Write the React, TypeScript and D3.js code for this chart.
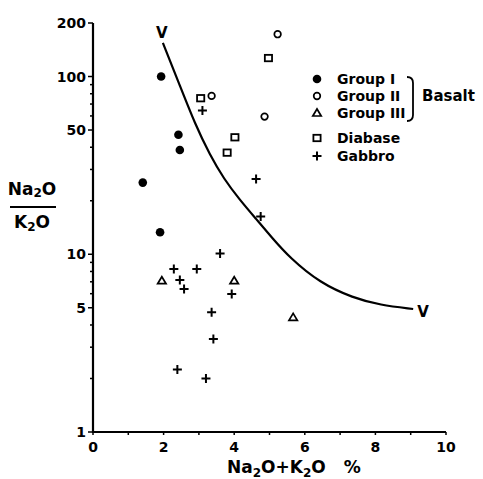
import React from "react";
import * as d3 from "d3";

// ---- data ----
const groupI: [number, number][] = [
  [1.93, 100], [2.42, 47], [2.46, 38.6], [1.41, 25.3], [1.9, 13.3],
];
const groupII: [number, number][] = [
  [5.23, 173], [3.36, 77.8], [4.86, 59.5],
];
const groupIII: [number, number][] = [
  [1.95, 7.1], [4.0, 7.1], [5.67, 4.42],
];
const diabase: [number, number][] = [
  [4.97, 127], [3.05, 75.5], [4.02, 45.5], [3.8, 37.3],
];
const gabbro: [number, number][] = [
  [3.1, 64.3], [4.62, 26.5], [4.75, 16.3], [3.6, 10.1], [2.29, 8.27], [2.94, 8.27],
  [2.46, 7.17], [2.58, 6.38], [3.93, 5.98], [3.36, 4.72], [3.41, 3.34], [2.39, 2.25], [3.2, 2.0],
];
const curveV: [number, number][] = [
  [1.98, 154.5], [2.465, 88.5], [2.89, 54.1], [3.31, 36.2], [3.71, 26.5], [4.16, 20.2],
  [4.62, 15.8], [5.07, 12.4], [5.58, 9.53], [6.43, 6.9], [7.37, 5.68], [8.13, 5.18], [9.07, 4.92],
];
const xTicksMajor = [0, 2, 4, 6, 8, 10];
const xTicksMinor = [1, 3, 5, 7, 9];
const yTickLabels = [1, 5, 10, 50, 100, 200];
const yTicksAll = [1, 2, 3, 4, 5, 6, 7, 8, 9, 10, 20, 30, 40, 50, 60, 70, 80, 90, 100, 200];
const legendItems = ["Group I", "Group II", "Group III", "Diabase", "Gabbro"];

const FONT = "'DejaVu Sans', sans-serif";

function Marker({ kind, cx, cy }: { kind: string; cx: number; cy: number }) {
  const s = "#000";
  if (kind === "Group I") return <circle cx={cx} cy={cy} r={4.3} fill={s} />;
  if (kind === "Group II") return <circle cx={cx} cy={cy} r={3.3} fill="none" stroke={s} strokeWidth={1.7} />;
  if (kind === "Group III") {
    const p = `M${cx - 4.2},${cy + 3} L${cx + 4.2},${cy + 3} L${cx},${cy - 4} Z`;
    return <path d={p} fill="none" stroke={s} strokeWidth={1.7} strokeLinejoin="miter" />;
  }
  if (kind === "Diabase")
    return <rect x={cx - 3.6} y={cy - 3.2} width={7.2} height={6.4} fill="none" stroke={s} strokeWidth={1.8} />;
  return (
    <path d={`M${cx - 4.5},${cy} H${cx + 4.5} M${cx},${cy - 4.5} V${cy + 4.5}`} stroke={s} strokeWidth={2} />
  );
}

export default function App() {
  const x = d3.scaleLinear().domain([0, 10]).range([93, 446]);
  const y = d3.scaleLog().domain([1, 200]).range([432, 23]);
  const line = d3
    .line<[number, number]>()
    .x((d) => x(d[0]))
    .y((d) => y(d[1]))
    .curve(d3.curveBasis);

  const series: [string, [number, number][]][] = [
    ["Group I", groupI],
    ["Group II", groupII],
    ["Group III", groupIII],
    ["Diabase", diabase],
    ["Gabbro", gabbro],
  ];
  const legendY = [79, 96, 113, 138, 156];

  return (
    <div style={{ position: "absolute", left: 0, top: 0 }}>
      <svg width={483} height={479} style={{ display: "block", background: "#fff" }}>
        {/* axes */}
        <line x1={x(0)} y1={y(1)} x2={x(10)} y2={y(1)} stroke="#000" strokeWidth={2.2} />
        <line x1={x(0)} y1={y(1) + 1} x2={x(0)} y2={y(200)} stroke="#000" strokeWidth={2.2} />
        {xTicksMajor.map((t) => (
          <g key={"xm" + t}>
            <line x1={x(t)} x2={x(t)} y1={y(1)} y2={y(1) + 3} stroke="#000" strokeWidth={1.5} />
            <text x={x(t)} y={452} textAnchor="middle" fontFamily={FONT} fontWeight="bold" fontSize={14}>
              {t}
            </text>
          </g>
        ))}
        {xTicksMinor.map((t) => (
          <line key={"xn" + t} x1={x(t)} x2={x(t)} y1={y(1)} y2={y(1) + 3} stroke="#000" strokeWidth={1.5} />
        ))}
        {yTicksAll.map((t) => {
          const lab = yTickLabels.includes(t);
          return (
            <line key={"yt" + t} x1={x(0) - (lab ? 5 : 3)} x2={x(0)} y1={y(t)} y2={y(t)} stroke="#000" strokeWidth={1.5} />
          );
        })}
        {yTickLabels.map((t) => (
          <text key={"yl" + t} x={86} y={y(t)} dy="0.36em" textAnchor="end" fontFamily={FONT} fontWeight="bold" fontSize={14}>
            {t}
          </text>
        ))}

        {/* curve V */}
        <path d={line(curveV) || ""} fill="none" stroke="#000" strokeWidth={2.2} />
        <text x={x(curveV[0][0]) - 1} y={33} dy="0.36em" textAnchor="middle" fontFamily={FONT} fontWeight="bold" fontSize={15}>
          V
        </text>
        <text x={x(curveV[curveV.length - 1][0]) + 10} y={y(curveV[curveV.length - 1][1]) + 3} dy="0.36em" textAnchor="middle" fontFamily={FONT} fontWeight="bold" fontSize={15}>
          V
        </text>

        {/* points */}
        {series.map(([name, pts]) =>
          pts.map((p, i) => <Marker key={name + i} kind={name} cx={x(p[0])} cy={y(p[1])} />)
        )}

        {/* legend */}
        {legendItems.map((name, i) => (
          <g key={"lg" + name}>
            <Marker kind={name} cx={317} cy={legendY[i]} />
            <text x={337} y={legendY[i]} dy="0.36em" fontFamily={FONT} fontWeight="bold" fontSize={14}>
              {name}
            </text>
          </g>
        ))}
        <path
          d="M407,77 Q413,77 413,83 V115 Q413,121 407,121"
          fill="none"
          stroke="#000"
          strokeWidth={1.8}
        />
        <text x={422} y={96} dy="0.36em" fontFamily={FONT} fontWeight="bold" fontSize={15}>
          Basalt
        </text>

        {/* x title */}
        <text x={227} y={473} fontFamily={FONT} fontWeight="bold" fontSize={17}>
          <tspan>Na</tspan>
          <tspan fontSize={12} dy={4}>2</tspan>
          <tspan dy={-4}>O+K</tspan>
          <tspan fontSize={12} dy={4}>2</tspan>
          <tspan dy={-4}>O</tspan>
          <tspan dx={18}>%</tspan>
        </text>

        {/* y title */}
        <text x={32} y={195} textAnchor="middle" fontFamily={FONT} fontWeight="bold" fontSize={17}>
          <tspan>Na</tspan>
          <tspan fontSize={12} dy={2}>2</tspan>
          <tspan dy={-2}>O</tspan>
        </text>
        <line x1={10} x2={56} y1={207} y2={207} stroke="#000" strokeWidth={2} />
        <text x={32} y={228} textAnchor="middle" fontFamily={FONT} fontWeight="bold" fontSize={17}>
          <tspan>K</tspan>
          <tspan fontSize={12} dy={3}>2</tspan>
          <tspan dy={-3}>O</tspan>
        </text>
      </svg>
    </div>
  );
}
